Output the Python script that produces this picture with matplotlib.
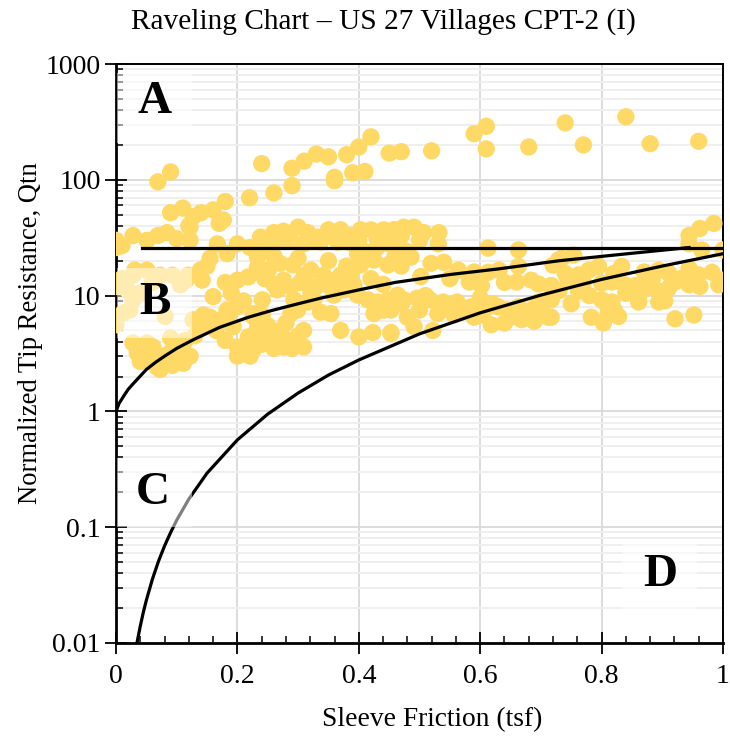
import matplotlib
matplotlib.use("Agg")
import matplotlib.pyplot as plt
from matplotlib.patches import Rectangle
from matplotlib.ticker import LogLocator, FixedLocator, NullFormatter

plt.rcParams["font.family"] = ["Liberation Serif", "DejaVu Serif"]

# CPT data points: sleeve friction (tsf) and normalized tip resistance Qtn
sleeve_friction = [
    # upper sparse group
    0.069, 0.09, 0.09, 0.11, 0.14, 0.16, 0.17, 0.18, 0.22, 0.24, 0.26, 0.29, 0.29, 0.31, 0.33,
    0.35, 0.36, 0.36, 0.38, 0.39, 0.41, 0.40, 0.42, 0.45, 0.47, 0.52, 0.59, 0.61, 0.61, 0.68,
    0.74, 0.77, 0.84, 0.88, 0.96, 0.127, 0.177, 0.12,
    # band near the line, left
    0.0, 0.0, 0.01, 0.028, 0.051, 0.069, 0.084, 0.1, 0.122, 0.122, 0.167, 0.2, 0.183, 0.155,
    0.15, 0.139, 0.142, 0.16, 0.18, 0.2, 0.218, 0.233, 0.233, 0.221,
    # zone B
    0.0, 0.028, 0.051, 0.073, 0.093, 0.106, 0.119, 0.012, 0.028, 0.0, 0.023, 0.031, 0.081,
    0.0, 0.01, 0.06, 0.115, 0.04, 0.02,
    # lower left
    0.028, 0.051, 0.061, 0.045, 0.073, 0.089, 0.102, 0.114, 0.127, 0.144, 0.155, 0.172, 0.073,
    0.111, 0.122, 0.068, 0.093, 0.035, 0.04, 0.058, 0.083, 0.1, 0.13, 0.09, 0.14, 0.165,
    0.183, 0.188, 0.193, 0.18, 0.2, 0.218, 0.233, 0.226, 0.2, 0.221, 0.19, 0.21, 0.2,
    # 0.23 - 0.46
    0.238, 0.26, 0.276, 0.3, 0.316, 0.332, 0.35, 0.37, 0.387, 0.403, 0.42, 0.441, 0.458, 0.243,
    0.266, 0.288, 0.309, 0.337, 0.365, 0.387, 0.25, 0.28, 0.32, 0.36, 0.4, 0.43, 0.45,
    0.291, 0.321, 0.342, 0.37, 0.387, 0.403, 0.398, 0.425, 0.448, 0.458, 0.233, 0.251, 0.276,
    0.266, 0.288, 0.304, 0.321, 0.293, 0.316, 0.326, 0.349, 0.359, 0.375, 0.392, 0.398, 0.415,
    0.431, 0.448, 0.464, 0.441, 0.425, 0.337, 0.354, 0.299, 0.288, 0.241, 0.241, 0.226, 0.26,
    0.245, 0.31, 0.33, 0.36, 0.38, 0.42, 0.44, 0.3, 0.27, 0.26, 0.35, 0.41, 0.43,
    0.255, 0.271, 0.288, 0.276, 0.309, 0.309, 0.233, 0.226, 0.37, 0.4, 0.423, 0.453, 0.26,
    0.29, 0.3, 0.28, 0.25, 0.24,
    # 0.45 - 0.73
    0.458, 0.474, 0.491, 0.507, 0.532, 0.464, 0.469, 0.531, 0.486, 0.502, 0.519, 0.54, 0.564,
    0.582, 0.602, 0.613, 0.631, 0.613, 0.663, 0.663, 0.66, 0.684, 0.696, 0.717, 0.729, 0.47,
    0.48, 0.5, 0.47, 0.55, 0.59, 0.64,
    0.453, 0.474, 0.496, 0.517, 0.539, 0.562, 0.585, 0.607, 0.63, 0.646, 0.663, 0.684, 0.696,
    0.712, 0.712, 0.689, 0.668, 0.64, 0.618, 0.59, 0.557, 0.522, 0.491, 0.453, 0.47, 0.5,
    0.53, 0.55, 0.57, 0.6, 0.62, 0.65, 0.675, 0.7, 0.48, 0.46, 0.51, 0.6,
    # 0.72 - 1.0
    0.734, 0.754, 0.944, 0.962, 0.985, 0.944, 0.965, 1.0, 0.833, 0.894, 0.911, 0.944, 0.982,
    1.0, 0.993, 0.96, 0.962, 0.944, 0.921, 0.883, 0.717, 0.745, 0.762, 0.779, 0.795, 0.762,
    0.8, 0.817, 0.838, 0.855, 0.871, 0.883, 0.894, 0.861, 0.861, 0.894, 0.904, 0.717, 0.717,
    0.8, 0.805, 0.817, 0.821, 0.811, 0.803, 0.783, 0.828, 0.921, 0.952, 0.73, 0.75, 0.78,
    0.84, 0.87, 0.91, 0.93, 0.82, 0.77, 0.74, 0.72,
]
qtn = [
    96, 117, 52, 57, 52, 55, 42, 65, 70, 138, 77, 89, 126, 145, 167,
    158, 105, 98, 165, 115, 118, 192, 235, 170, 175, 178, 250, 290, 185, 192,
    310, 200, 350, 205, 215, 48, 45, 40,
    26, 30, 27, 33, 30, 33, 35, 31, 30, 39, 28, 28, 23, 21,
    18, 16.6, 13.6, 9.8, 13, 13.6, 14.5, 17.6, 21.5, 26,
    13, 15, 16.6, 15, 15, 12.4, 15, 7.1, 9.2, 5.6, 7.5, 16.6, 6.6,
    12, 14, 13, 13.5, 10.5, 11,
    3.9, 3.9, 3.6, 3.0, 3.0, 3.2, 3.6, 4.1, 6.2, 6.8, 6.5, 6.2, 2.3,
    2.6, 3.0, 2.4, 2.5, 3.2, 2.7, 2.7, 2.8, 2.7, 4.5, 4.3, 5.5, 5.0,
    7.5, 7.2, 5.4, 4.1, 3.6, 4.4, 5.3, 6.6, 3.0, 3.0, 10.5, 9.0, 8.0,
    32, 35, 36, 39, 35, 32, 37, 37, 33, 37, 37, 37, 37, 29,
    29, 30, 28, 29, 29, 28.5, 27, 31, 30, 33, 30, 31, 28,
    18.4, 16.6, 15, 15, 15.9, 18.4, 23, 20.3, 18.4, 20.8, 16.6, 16.6, 13.6,
    11.2, 11.8, 13, 10.7, 9.2, 8.8, 9.2, 12.4, 10.1, 11.2, 12.4, 10.1, 9.2,
    8.8, 9.2, 10.1, 7.5, 7.0, 7.2, 7.0, 7.5, 7.0, 9.2, 6.8, 7.0, 12.5,
    14, 15, 12, 13.5, 18, 14, 12.5, 21, 19, 22, 20, 24, 26,
    4.1, 5.0, 4.1, 3.6, 5.0, 3.6, 4.4, 3.4, 5.0, 4.4, 4.8, 4.7, 3.5,
    3.5, 4.5, 5.8, 5.5, 3.8,
    37, 39, 39, 35, 35, 30, 26, 28, 21.5, 14.6, 19.0, 19.4, 16.6,
    13.1, 12.2, 15.9, 16.6, 25.7, 24.8, 17.9, 13.1, 13.6, 12.6, 12.2, 20.3, 33,
    24, 30, 18, 14, 16, 13,
    7.5, 9.2, 9.5, 9.2, 8.8, 8.8, 8.0, 7.5, 8.0, 7.5, 8.0, 7.5, 8.8,
    9.2, 6.5, 6.0, 6.2, 5.8, 5.6, 6.5, 6.8, 5.0, 5.4, 4.8, 8.5, 7.5,
    7.0, 8, 7.3, 6.8, 8.5, 6.5, 7, 7.8, 6.5, 9.5, 10, 9.5,
    21, 22.4, 33, 38, 42, 28, 24.8, 24.8, 17.9, 16.6, 15.5, 17.2, 15.9,
    13.6, 12.4, 15.1, 12, 12.4, 13.1, 13.6, 12.2, 13.6, 15.1, 16.6, 17.9, 10.9,
    12.8, 13.1, 12.4, 12.2, 11.5, 14.2, 10.9, 9.6, 8.8, 8.8, 9.0, 9.2, 6.5,
    9.2, 8.8, 8.8, 7.5, 7.1, 5.8, 6.5, 6.6, 6.3, 6.8, 11, 8.5, 10,
    10.5, 16, 11.5, 14, 15.5, 13, 15.5, 18.3,
]

# boundary lines
flat_x = [0.043, 1.0]
flat_q = [26, 26]
upper_x = [0, 0.005, 0.012, 0.02, 0.029, 0.04, 0.05, 0.065, 0.08, 0.1, 0.127, 0.17, 0.218,
           0.255, 0.3, 0.337, 0.4, 0.46, 0.55, 0.63, 0.73, 0.85, 0.944]
upper_q = [1.0, 1.17, 1.34, 1.55, 1.75, 2.02, 2.3, 2.65, 3.0, 3.5, 4.15, 5.3, 6.5,
           7.4, 8.5, 9.5, 11.2, 13.0, 15.2, 17.0, 20.0, 23.2, 26.0]
lower_x = [0.035, 0.04, 0.045, 0.05, 0.06, 0.07, 0.08, 0.09, 0.1, 0.12, 0.15, 0.2, 0.25,
           0.3, 0.35, 0.4, 0.5, 0.6, 0.7, 0.8, 0.9, 1.0]
lower_q = [0.0103, 0.014, 0.0184, 0.0234, 0.0356, 0.0508, 0.069, 0.09, 0.115, 0.175,
           0.293, 0.568, 0.948, 1.44, 2.06, 2.78, 4.67, 7.1, 10.1, 13.8, 18.0, 23.0]

zone_labels = ["A", "B", "C", "D"]
x_ticks = [0, 0.2, 0.4, 0.6, 0.8, 1]
x_tick_labels = ["0", "0.2", "0.4", "0.6", "0.8", "1"]
y_ticks = [0.01, 0.1, 1, 10, 100, 1000]
y_tick_labels = ["0.01", "0.1", "1", "10", "100", "1000"]

fig = plt.figure(figsize=(7.3, 7.4), dpi=100)
ax = fig.add_axes([116 / 730, 1 - 643 / 740, 607 / 730, 579 / 740])

ax.scatter(sleeve_friction, qtn, s=155, color="#FFD966", edgecolors="none", zorder=3)

ax.plot(flat_x, flat_q, color="black", lw=2.3, zorder=4)
ax.plot(upper_x, upper_q, color="black", lw=2.3, zorder=4)
ax.plot(lower_x, lower_q, color="black", lw=2.3, zorder=4)

ax.set_yscale("log")
ax.set_xlim(0, 1)
ax.set_ylim(0.01, 1000)

ax.set_xticks(x_ticks)
ax.set_xticklabels(x_tick_labels)
ax.xaxis.set_minor_locator(FixedLocator([i * 0.04 for i in range(26)]))
ax.set_yticks(y_ticks)
ax.set_yticklabels(y_tick_labels)
ax.yaxis.set_minor_locator(LogLocator(base=10, subs=range(2, 10)))
ax.yaxis.set_minor_formatter(NullFormatter())

ax.tick_params(which="major", direction="inout", length=16, width=1.3, labelsize=20, pad=3)
ax.tick_params(which="minor", direction="in", length=5, width=1.1)
ax.tick_params(axis="x", which="major", pad=7)

ax.grid(which="major", color="#D9D9D9", lw=1.3, zorder=0)
ax.yaxis.grid(which="minor", color="#EFEFEF", lw=1.4)
ax.set_axisbelow(True)
for sp in ax.spines.values():
    sp.set_color("black")
    sp.set_linewidth(1.4)
ax.spines["left"].set_linewidth(2)
ax.spines["bottom"].set_linewidth(2)

# zone letters on semi-transparent white boxes
boxes = [(0.002, 0.864), (0.002, 0.527), (0.002, 0.200), (0.834, 0.057)]
letter_pos = [(0.064, 0.935), (0.064, 0.587), (0.061, 0.259), (0.897, 0.118)]
for lab, (bx, by), (lx, ly) in zip(zone_labels, boxes, letter_pos):
    ax.add_patch(Rectangle((bx, by), 0.123, 0.12, transform=ax.transAxes,
                           facecolor="white", alpha=0.5, edgecolor="none", zorder=5))
    ax.text(lx, ly, lab, transform=ax.transAxes, fontsize=34, fontweight="bold",
            ha="center", va="center", zorder=6)

fig.text(432 / 730, 1 - 720 / 740, "Sleeve Friction (tsf)", fontsize=19.8,
         ha="center", va="center")
fig.text(31 / 730, 1 - 333 / 740, "Normalized Tip Resistance, Qtn", fontsize=19.2,
         rotation=90, ha="center", va="center")
fig.text(383 / 730, 1 - 22 / 740, "Raveling Chart \u2013 US 27 Villages CPT-2 (I)",
         fontsize=21.2, ha="center", va="center")

fig.savefig("out.png", dpi=100)
